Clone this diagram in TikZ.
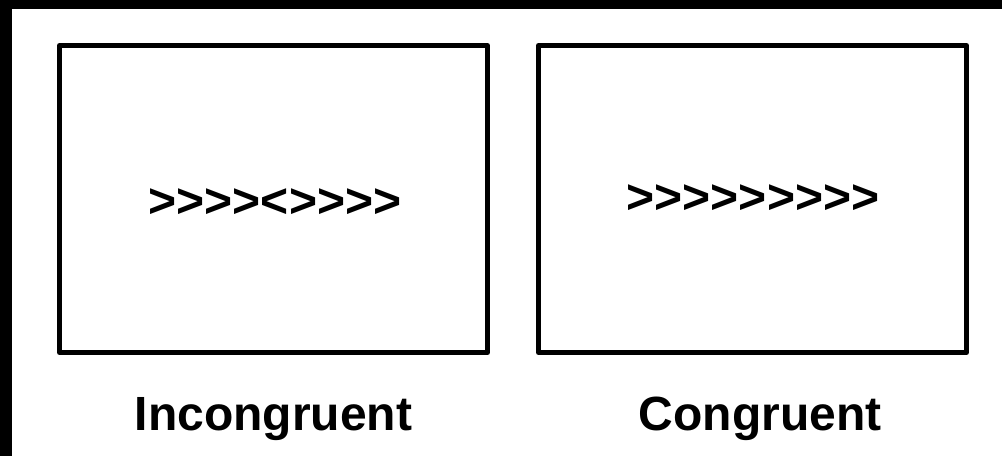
\documentclass[tikz,border=0pt]{standalone}
\usepackage{fontspec}
\setmainfont{Liberation Sans}
% single chevrons, kept apart so that >> is not turned into a guillemet
\newcommand{\rchev}{>\kern0pt}
\newcommand{\lchev}{<\kern0pt}
\begin{document}
\begin{tikzpicture}[x=1pt,y=-1pt,
  panel/.style={draw=black,line width=5pt,line join=round},
  arrows text/.style={font=\fontsize{48}{48}\selectfont\bfseries,inner sep=0pt,anchor=base},
  caption/.style={font=\fontsize{48}{48}\selectfont\bfseries,inner sep=0pt,anchor=base}]
  \useasboundingbox (0,0) rectangle (1002,456);
  \fill[white] (0,0) rectangle (1002,456);
  % dark strips along the top and left edges
  \fill[black] (0,0) rectangle (1002,9);
  \fill[black] (0,0) rectangle (12,456);
  % the two stimulus panels
  \draw[panel] (59.5,45.5) rectangle (487.5,352.5);
  \draw[panel] (538.5,45.5) rectangle (966.5,352.5);
  \coordinate (lc) at (275,217);
  \coordinate (rc) at (753,213);
  \node[arrows text] (inc) at (lc) {\rchev\rchev\rchev\rchev\lchev\rchev\rchev\rchev\rchev};
  \node[arrows text] (con) at (rc) {\rchev\rchev\rchev\rchev\rchev\rchev\rchev\rchev\rchev};
  % captions
  \node[caption] (incl) at (273.5,430) {Incongruent};
  \node[caption] (conl) at (760,430) {Congruent};
\end{tikzpicture}
\end{document}
